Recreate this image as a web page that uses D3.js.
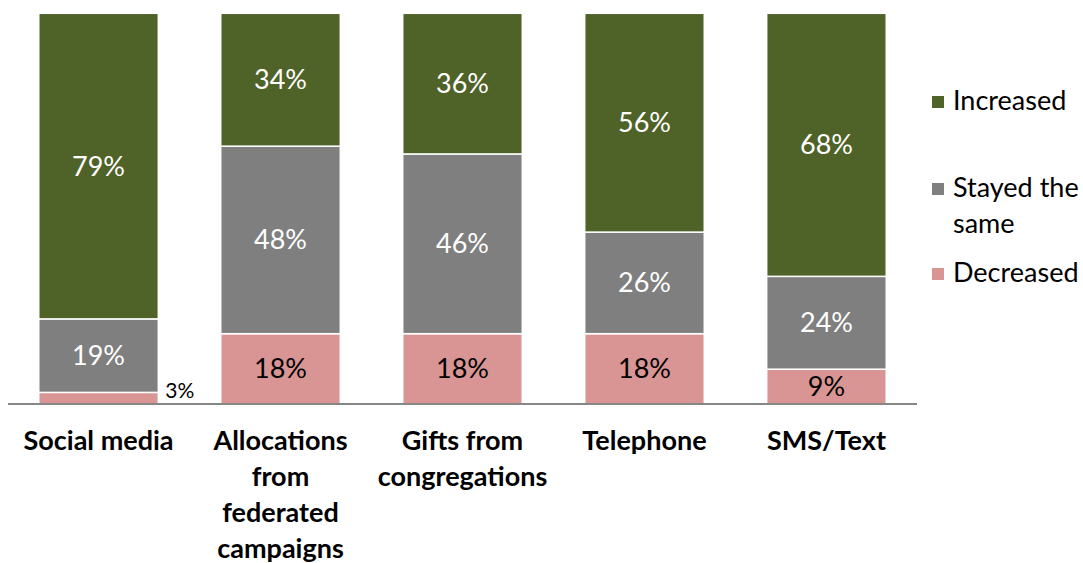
<!DOCTYPE html>
<html>
<head>
<meta charset="utf-8">
<script src="https://cdn.jsdelivr.net/npm/d3@7"></script>
<style>
  html, body { margin: 0; padding: 0; background: #fff; }
  svg { display: block; font-family: Lato, "Open Sans", sans-serif; }
</style>
</head>
<body>
<div id="chart"></div>
<script>
// 100% stacked bars — change in fundraising channels

const categories = ["Social media", "Allocations from federated campaigns", "Gifts from congregations", "Telephone", "SMS/Text"];
const categoryLines = [["Social media"], ["Allocations", "from", "federated", "campaigns"], ["Gifts from", "congregations"], ["Telephone"], ["SMS/Text"]];
const seriesNames = ["Decreased", "Stayed the same", "Increased"];
const decreased = [3, 18, 18, 18, 9];
const stayed = [19, 48, 46, 26, 24];
const increased = [79, 34, 36, 56, 68];

const colors = { "Decreased": "#d99594", "Stayed the same": "#7f7f7f", "Increased": "#4f6228" };
const labelColor = { "Decreased": "#000", "Stayed the same": "#fff", "Increased": "#fff" };

const width = 1083, height = 563;
const baseY = 404, topY = 13.3;
const fs = 27;

const rows = categories.map((c, i) => ({
  cat: c, "Decreased": decreased[i], "Stayed the same": stayed[i], "Increased": increased[i]
}));

const stack = d3.stack().keys(seriesNames).offset(d3.stackOffsetExpand);
const layers = stack(rows);

const x = d3.scaleBand().domain(categories).range([8, 917]).paddingInner(0.343).paddingOuter(0.169);
const y = d3.scaleLinear().domain([0, 1]).range([baseY, topY]);

const svg = d3.select("#chart").append("svg")
  .attr("width", width).attr("height", height);

// bars
const gLayers = svg.append("g").selectAll("g").data(layers).join("g")
  .attr("fill", d => colors[d.key]);
gLayers.selectAll("rect").data(d => d).join("rect")
  .attr("x", d => x(d.data.cat))
  .attr("width", x.bandwidth())
  .attr("y", d => y(d[1]))
  .attr("height", d => y(d[0]) - y(d[1]))
  .attr("stroke", "#fff").attr("stroke-width", 1.5);

// value labels (tiny segments get their label beside the bar)
layers.forEach(layer => {
  layer.forEach(d => {
    const v = d.data[layer.key];
    const small = v < 5;
    const cy = (y(d[0]) + y(d[1])) / 2;
    svg.append("text")
      .attr("x", small ? x(d.data.cat) + x.bandwidth() + 7 : x(d.data.cat) + x.bandwidth() / 2)
      .attr("y", small ? cy - 8 : cy)
      .attr("dy", "0.35em")
      .attr("text-anchor", small ? "start" : "middle")
      .attr("font-size", small ? 21 : fs)
      .attr("fill", small ? "#000" : labelColor[layer.key])
      .text(v + "%");
  });
});

// axis line
svg.append("g")
  .attr("transform", `translate(0,${baseY})`)
  .call(d3.axisBottom(x).tickSize(0).tickFormat(""))
  .call(g => g.select(".domain").attr("d", "M8,0H917").attr("stroke", "#868686").attr("stroke-width", 2));

// category labels
const gCat = svg.append("g");
categories.forEach((c, i) => {
  const t = gCat.append("text")
    .attr("x", x(c) + x.bandwidth() / 2)
    .attr("y", 441)
    .attr("text-anchor", "middle")
    .attr("font-size", fs)
    .attr("font-weight", "bold")
    .attr("fill", "#000");
  categoryLines[i].forEach((line, j) => {
    t.append("tspan")
      .attr("x", x(c) + x.bandwidth() / 2)
      .attr("y", 441 + j * 36)
      .attr("dy", "0.35em")
      .text(line);
  });
});

// legend
const legendItems = [
  { key: "Increased", lines: ["Increased"], y: 101 },
  { key: "Stayed the same", lines: ["Stayed the", "same"], y: 188 },
  { key: "Decreased", lines: ["Decreased"], y: 273 }
];
const gLeg = svg.append("g");
legendItems.forEach(item => {
  gLeg.append("rect")
    .attr("x", 932).attr("y", item.y - 5).attr("width", 12).attr("height", 12)
    .attr("fill", colors[item.key]);
  const t = gLeg.append("text").attr("font-size", fs).attr("fill", "#000");
  item.lines.forEach((line, j) => {
    t.append("tspan").attr("x", 953).attr("y", item.y + j * 36).attr("dy", "0.35em").text(line);
  });
});
</script>
</body>
</html>
